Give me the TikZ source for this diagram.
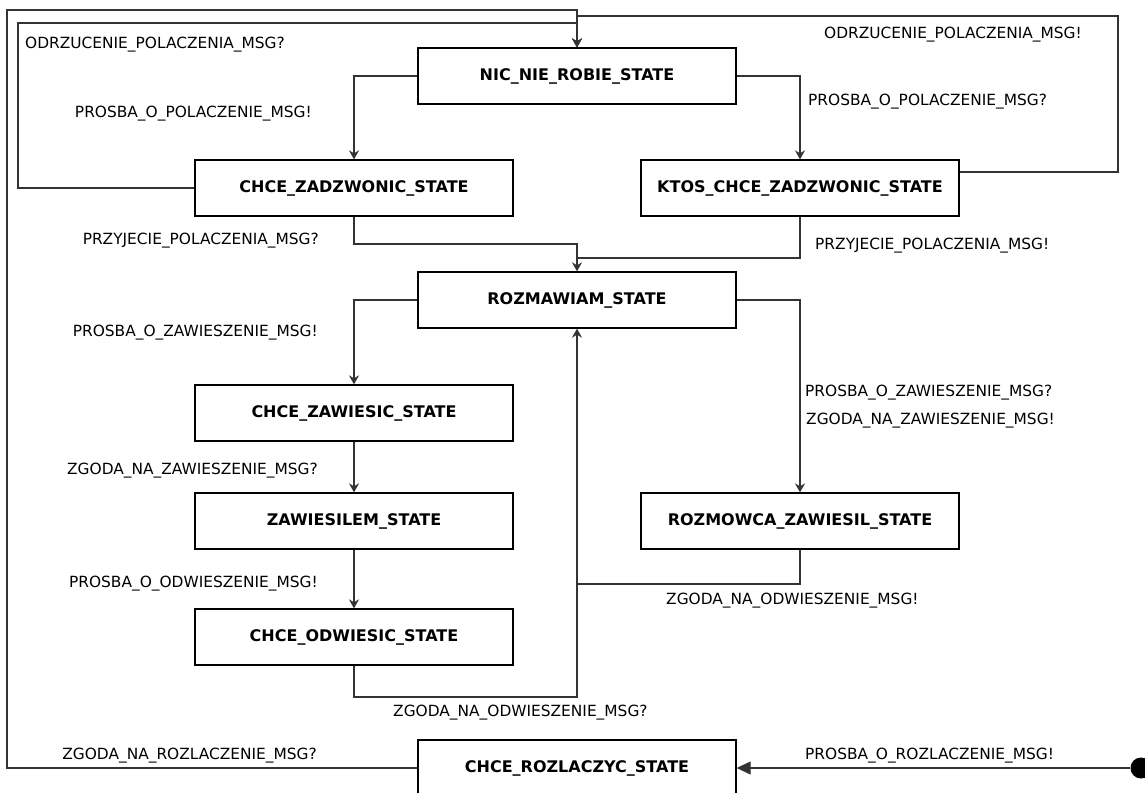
\documentclass[tikz,border=0pt]{standalone}
\usepackage{fontspec}
\setmainfont{DejaVu Sans}
\usepackage{xcolor}
\usetikzlibrary{arrows.meta}
\definecolor{wiregrey}{RGB}{51,51,51}

\tikzset{
  statebox/.style={draw=black, line width=1.3pt, fill=white, minimum width=318pt,
    minimum height=56pt, inner sep=0pt, font=\fontsize{16}{19}\selectfont\bfseries},
  msg/.style={inner sep=0pt, font=\fontsize{15.4}{18}\selectfont},
  flow/.style={draw=wiregrey, line width=1.2pt, -{Stealth[length=9pt,width=10pt,inset=3pt]}},
  joinline/.style={draw=wiregrey, line width=1.2pt},
}

\begin{document}
\begin{tikzpicture}[x=1pt,y=-1pt]
  \useasboundingbox (0,0) rectangle (1145,792);
  % states, placed on a pixel grid (y grows downwards)
  \node[statebox] (nic) at (577,76) {NIC\_NIE\_ROBIE\_STATE};
  \node[statebox] (zadzwonic) at (354,188) {CHCE\_ZADZWONIC\_STATE};
  \node[statebox] (ktos) at (800,188) {KTOS\_CHCE\_ZADZWONIC\_STATE};
  \node[statebox] (rozmawiam) at (577,300) {ROZMAWIAM\_STATE};
  \node[statebox] (zawiesic) at (354,413) {CHCE\_ZAWIESIC\_STATE};
  \node[statebox] (zawiesilem) at (354,521) {ZAWIESILEM\_STATE};
  \node[statebox] (odwiesic) at (354,637) {CHCE\_ODWIESIC\_STATE};
  \node[statebox] (rozmowca) at (800,521) {ROZMOWCA\_ZAWIESIL\_STATE};
  \node[statebox] (rozlaczyc) at (577,768) {CHCE\_ROZLACZYC\_STATE};
  \node[circle, fill=black, minimum size=21pt, inner sep=0pt] (start) at (1141,768) {};

  % bend points of the long loops and the joins
  \coordinate (outerL) at (7,10);
  \coordinate (innerL) at (18,23);
  \coordinate (outerR) at (1118,16);
  \coordinate (joinA) at (577,244);
  \coordinate (joinB) at (577,258);
  \coordinate (joinD) at (577,584);
  \coordinate (joinC) at (577,697);

  % transitions
  \draw[flow] (rozlaczyc.west) -| (outerL) -| (nic.north);
  \draw[flow] (zadzwonic.west) -| (innerL) -| (nic.north);
  \draw[flow] ([yshift=16pt]ktos.east) -| (outerR) -| (nic.north);
  \draw[flow] (nic.west) -| (zadzwonic.north);
  \draw[flow] (nic.east) -| (ktos.north);
  \draw[flow] (zadzwonic.south) |- (joinA) -- (rozmawiam.north);
  \draw[joinline] (ktos.south) |- (joinB);
  \draw[flow] (rozmawiam.west) -| (zawiesic.north);
  \draw[flow] (zawiesic.south) -- (zawiesilem.north);
  \draw[flow] (zawiesilem.south) -- (odwiesic.north);
  \draw[flow] (odwiesic.south) |- (joinC) -- (rozmawiam.south);
  \draw[flow] (rozmawiam.east) -| (rozmowca.north);
  \draw[joinline] (rozmowca.south) |- (joinD);
  \draw[draw=wiregrey, line width=1.2pt, -{Triangle[length=14pt,width=13pt]}] (start) -- (rozlaczyc.east);

  % message labels: name / x / y / anchor / text
  \foreach \nm/\px/\py/\side/\txt in {
    lOdrzQ/25/45/west/ODRZUCENIE\_POLACZENIA\_MSG?,
    lOdrzE/824/35/west/ODRZUCENIE\_POLACZENIA\_MSG!,
    lPolE/312/114/east/PROSBA\_O\_POLACZENIE\_MSG!,
    lPolQ/808/102/west/PROSBA\_O\_POLACZENIE\_MSG?,
    lPrzyQ/319/241/east/PRZYJECIE\_POLACZENIA\_MSG?,
    lPrzyE/815/246/west/PRZYJECIE\_POLACZENIA\_MSG!,
    lZawE/318/333/east/PROSBA\_O\_ZAWIESZENIE\_MSG!,
    lZawQ/805/393/west/PROSBA\_O\_ZAWIESZENIE\_MSG?,
    lZgZawE/806/421/west/ZGODA\_NA\_ZAWIESZENIE\_MSG!,
    lZgZawQ/318/471/east/ZGODA\_NA\_ZAWIESZENIE\_MSG?,
    lOdwE/318/584/east/PROSBA\_O\_ODWIESZENIE\_MSG!,
    lZgOdwE/666/601/west/ZGODA\_NA\_ODWIESZENIE\_MSG!,
    lZgOdwQ/393/713/west/ZGODA\_NA\_ODWIESZENIE\_MSG?,
    lZgRozQ/317/756/east/ZGODA\_NA\_ROZLACZENIE\_MSG?,
    lRozE/805/756/west/PROSBA\_O\_ROZLACZENIE\_MSG!} {
    \node[msg, anchor=\side] (\nm) at (\px,\py) {\txt};
  }
\end{tikzpicture}
\end{document}
